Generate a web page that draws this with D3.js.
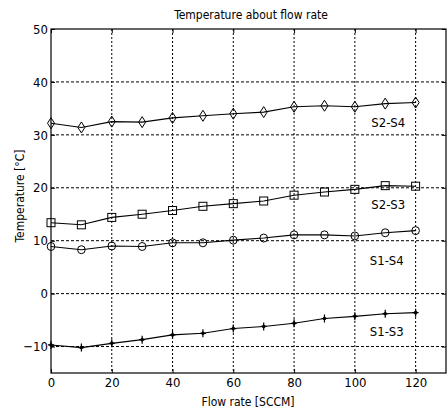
<!DOCTYPE html>
<html>
<head>
<meta charset="utf-8">
<script src="https://cdn.jsdelivr.net/npm/d3@7"></script>
<style>
  body { margin: 0; background: #fff; }
  text { font-family: "Liberation Sans Narrow", "DejaVu Sans Condensed", "Liberation Sans", sans-serif; font-stretch: condensed; fill: #000; }
</style>
</head>
<body>
<div id="app"></div>
<script>
const flowRate = [0, 10, 20, 30, 40, 50, 60, 70, 80, 90, 100, 110, 120];
const s2s4 = [32.2, 31.4, 32.5, 32.4, 33.2, 33.6, 34.0, 34.3, 35.3, 35.5, 35.3, 35.9, 36.1];
const s2s3 = [13.4, 13.0, 14.4, 15.0, 15.7, 16.5, 17.0, 17.5, 18.6, 19.2, 19.7, 20.4, 20.3];
const s1s4 = [8.9, 8.3, 9.0, 8.9, 9.6, 9.6, 10.1, 10.5, 11.1, 11.1, 10.9, 11.5, 11.9];
const s1s3 = [-9.7, -10.2, -9.4, -8.7, -7.8, -7.5, -6.6, -6.2, -5.6, -4.7, -4.3, -3.8, -3.6];
const xTicks = [0, 20, 40, 60, 80, 100, 120];
const yTicks = [-10, 0, 10, 20, 30, 40, 50];
const seriesNames = ['S2-S4', 'S2-S3', 'S1-S4', 'S1-S3'];
const labelPos = [[111, 32.3], [111, 16.9], [110.5, 6.2], [110.5, -7.2]];

const width = 447, height = 411;
const m = { left: 51, top: 29, right: 446, bottom: 373 };

const x = d3.scaleLinear().domain([0, 130]).range([m.left, m.right]);
const y = d3.scaleLinear().domain([-15, 50]).range([m.bottom, m.top]);

const svg = d3.select('#app')
  .append('svg')
  .attr('width', width)
  .attr('height', height);

// grid
svg.append('g')
  .selectAll('line')
  .data(xTicks.filter(d => d > 0))
  .join('line')
  .attr('x1', d => x(d)).attr('x2', d => x(d))
  .attr('y1', m.top).attr('y2', m.bottom)
  .attr('stroke', '#000').attr('stroke-width', 1)
  .attr('stroke-dasharray', '2,2');

svg.append('g')
  .selectAll('line')
  .data(yTicks.filter(d => d < 50))
  .join('line')
  .attr('x1', m.left).attr('x2', m.right)
  .attr('y1', d => y(d)).attr('y2', d => y(d))
  .attr('stroke', '#000').attr('stroke-width', 1)
  .attr('stroke-dasharray', '3,2');

// box
svg.append('rect')
  .attr('x', m.left).attr('y', m.top)
  .attr('width', m.right - m.left).attr('height', m.bottom - m.top)
  .attr('fill', 'none').attr('stroke', '#000').attr('stroke-width', 1.2);

// axes with inward ticks
const xAxis = svg.append('g')
  .attr('transform', `translate(0,${m.bottom})`)
  .call(d3.axisBottom(x).tickValues(xTicks).tickSizeInner(-4).tickSizeOuter(0).tickPadding(5));
const xAxisTop = svg.append('g')
  .attr('transform', `translate(0,${m.top})`)
  .call(d3.axisTop(x).tickValues(xTicks).tickSizeInner(-4).tickSizeOuter(0).tickFormat(''));
const yAxis = svg.append('g')
  .attr('transform', `translate(${m.left},0)`)
  .call(d3.axisLeft(y).tickValues(yTicks).tickSizeInner(-4).tickSizeOuter(0).tickPadding(3));
const yAxisRight = svg.append('g')
  .attr('transform', `translate(${m.right},0)`)
  .call(d3.axisRight(y).tickValues(yTicks).tickSizeInner(-4).tickSizeOuter(0).tickFormat(''));

[xAxis, xAxisTop, yAxis, yAxisRight].forEach(g => {
  g.attr('font-family', null);
  g.select('.domain').remove();
  g.selectAll('line').attr('stroke', '#000');
  g.selectAll('text').style('font-size', '13px');
});

// lines + markers
const line = d3.line().x((d, i) => x(flowRate[i])).y(d => y(d));
const allSeries = [s2s4, s2s3, s1s4, s1s3];
const markerType = ['diamond', 'square', 'circle', 'plus'];

allSeries.forEach((s, k) => {
  svg.append('path')
    .datum(s)
    .attr('d', line)
    .attr('fill', 'none')
    .attr('stroke', '#000')
    .attr('stroke-width', 1.1);

  const g = svg.append('g');
  s.forEach((v, i) => {
    const cx = x(flowRate[i]), cy = y(v);
    if (markerType[k] == 'diamond') {
      g.append('path')
        .attr('d', `M${cx},${cy - 5.5}L${cx + 3.5},${cy}L${cx},${cy + 5.5}L${cx - 3.5},${cy}Z`)
        .attr('fill', 'none').attr('stroke', '#000');
    } else if (markerType[k] == 'square') {
      g.append('rect')
        .attr('x', cx - 4).attr('y', cy - 4)
        .attr('width', 8).attr('height', 8)
        .attr('fill', 'none').attr('stroke', '#000');
    } else if (markerType[k] == 'circle') {
      g.append('ellipse')
        .attr('cx', cx).attr('cy', cy)
        .attr('rx', 3.8).attr('ry', 4)
        .attr('fill', 'none').attr('stroke', '#000');
    } else {
      g.append('path')
        .attr('d', `M${cx - 3},${cy}L${cx + 3},${cy}M${cx},${cy - 4}L${cx},${cy + 4}`)
        .attr('stroke', '#000').attr('stroke-width', 1.2);
      g.append('circle')
        .attr('cx', cx).attr('cy', cy).attr('r', 1.8)
        .attr('fill', '#000');
    }
  });
});

// series labels
svg.append('g')
  .selectAll('text')
  .data(seriesNames)
  .join('text')
  .attr('x', (d, i) => x(labelPos[i][0]))
  .attr('y', (d, i) => y(labelPos[i][1]))
  .attr('text-anchor', 'middle')
  .attr('dominant-baseline', 'central')
  .style('font-size', '13px')
  .text(d => d);

// title and axis labels
svg.append('text')
  .attr('x', 251).attr('y', 15)
  .attr('text-anchor', 'middle')
  .attr('dominant-baseline', 'central')
  .style('font-size', '12px')
  .text('Temperature about flow rate');

svg.append('text')
  .attr('x', 248).attr('y', 402)
  .attr('text-anchor', 'middle')
  .attr('dominant-baseline', 'central')
  .style('font-size', '12px')
  .text('Flow rate [SCCM]');

svg.append('text')
  .attr('transform', 'translate(20,196) rotate(-90)')
  .attr('text-anchor', 'middle')
  .attr('dominant-baseline', 'central')
  .style('font-size', '12px')
  .text('Temperature [°C]');
</script>
</body>
</html>
